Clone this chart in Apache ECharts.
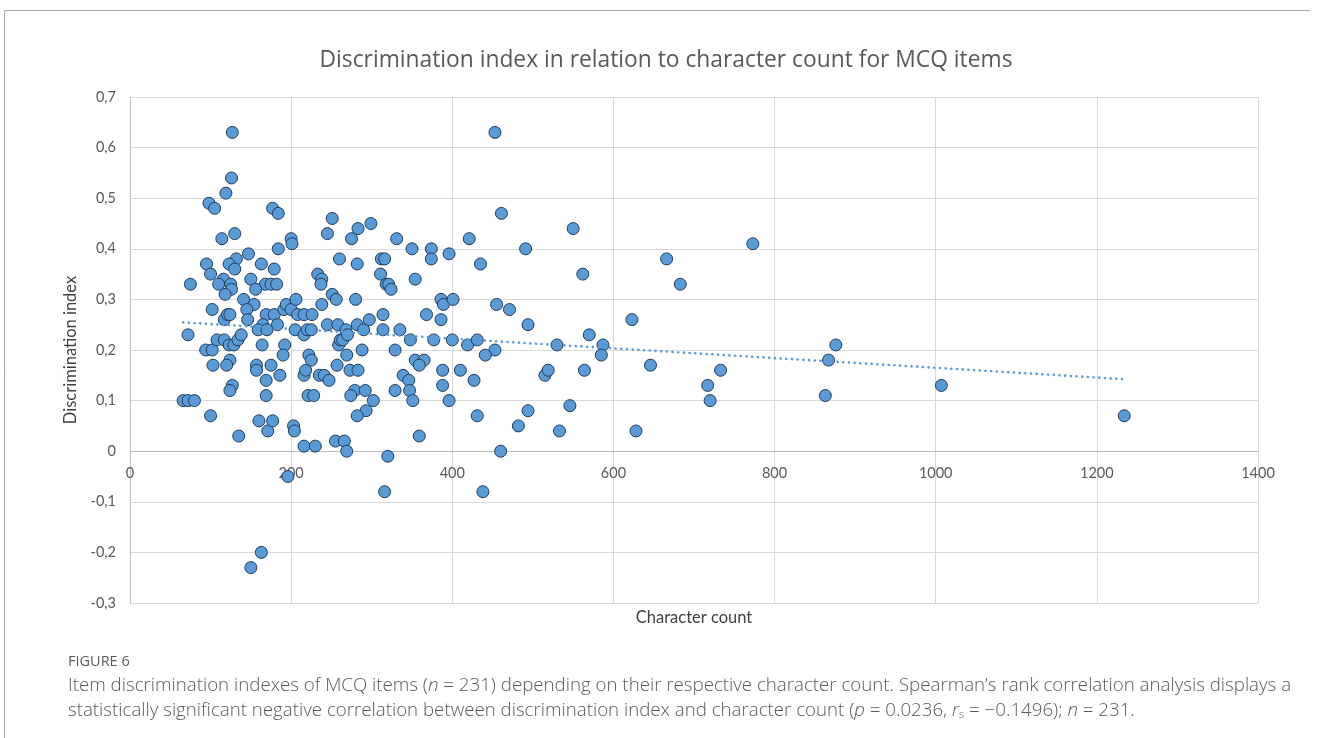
<!DOCTYPE html>
<html>
<head>
<meta charset="utf-8">
<title>Discrimination index vs character count</title>
<script src="https://cdn.jsdelivr.net/npm/echarts@6/dist/echarts.min.js"></script>
<style>
  html, body { margin: 0; padding: 0; background: #ffffff; }
  #chart { width: 1320px; height: 738px; }
</style>
</head>
<body>
<div id="chart"></div>
<script>
// Character count of each MCQ item
const charCount = [
  127, 126, 119, 98, 105, 177, 184, 114, 130, 184,
  147, 132, 95, 123, 130, 163, 179, 100, 150, 116,
  75, 110, 125, 168, 175, 182, 126, 156, 118, 141,
  154, 145, 102, 146, 117, 121, 124, 169, 179, 165,
  183, 159, 170, 191, 194, 200, 72, 94, 102, 108,
  117, 123, 129, 134, 138, 124, 103, 120, 127, 124,
  157, 157, 164, 169, 175, 186, 192, 190, 169, 66,
  72, 80, 100, 135, 160, 171, 177, 196, 163, 150,
  200, 201, 203, 204, 205, 206, 208, 216, 226, 216,
  220, 225, 216, 218, 222, 225, 221, 228, 216, 230,
  233, 238, 237, 238, 245, 235, 241, 247, 245, 251,
  260, 251, 256, 258, 259, 261, 264, 268, 270, 257,
  269, 273, 283, 279, 274, 292, 302, 293, 282, 288,
  255, 266, 269, 275, 283, 299, 282, 280, 282, 290,
  297, 311, 312, 316, 318, 321, 324, 314, 314, 331,
  335, 329, 339, 346, 329, 347, 351, 348, 350, 354,
  354, 365, 359, 359, 320, 316, 368, 374, 374, 386,
  389, 386, 377, 388, 388, 396, 396, 400, 401, 453,
  461, 421, 435, 491, 455, 471, 494, 419, 431, 453,
  441, 410, 427, 431, 460, 438, 482, 494, 515, 519,
  530, 533, 550, 562, 570, 587, 585, 564, 546, 623,
  628, 646, 666, 683, 717, 720, 733, 773, 863, 867,
  876, 1007, 1234
];

// Discrimination index of each item (same order as charCount)
const discIndex = [
  0.63, 0.54, 0.51, 0.49, 0.48, 0.48, 0.47, 0.42, 0.43, 0.40,
  0.39, 0.38, 0.37, 0.37, 0.36, 0.37, 0.36, 0.35, 0.34, 0.34,
  0.33, 0.33, 0.33, 0.33, 0.33, 0.33, 0.32, 0.32, 0.31, 0.30,
  0.29, 0.28, 0.28, 0.26, 0.26, 0.27, 0.27, 0.27, 0.27, 0.25,
  0.25, 0.24, 0.24, 0.28, 0.29, 0.28, 0.23, 0.20, 0.20, 0.22,
  0.22, 0.21, 0.21, 0.22, 0.23, 0.18, 0.17, 0.17, 0.13, 0.12,
  0.17, 0.16, 0.21, 0.14, 0.17, 0.15, 0.21, 0.19, 0.11, 0.10,
  0.10, 0.10, 0.07, 0.03, 0.06, 0.04, 0.06, -0.05, -0.20, -0.23,
  0.42, 0.41, 0.05, 0.04, 0.24, 0.30, 0.27, 0.27, 0.27, 0.23,
  0.24, 0.24, 0.15, 0.16, 0.19, 0.18, 0.11, 0.11, 0.01, 0.01,
  0.35, 0.34, 0.33, 0.29, 0.25, 0.15, 0.15, 0.14, 0.43, 0.46,
  0.38, 0.31, 0.30, 0.25, 0.21, 0.22, 0.22, 0.24, 0.23, 0.17,
  0.19, 0.16, 0.16, 0.12, 0.11, 0.12, 0.10, 0.08, 0.07, 0.20,
  0.02, 0.02, 0.00, 0.42, 0.44, 0.45, 0.37, 0.30, 0.25, 0.24,
  0.26, 0.35, 0.38, 0.38, 0.33, 0.33, 0.32, 0.27, 0.24, 0.42,
  0.24, 0.20, 0.15, 0.14, 0.12, 0.12, 0.10, 0.22, 0.40, 0.34,
  0.18, 0.18, 0.17, 0.03, -0.01, -0.08, 0.27, 0.40, 0.38, 0.30,
  0.29, 0.26, 0.22, 0.16, 0.13, 0.39, 0.10, 0.22, 0.30, 0.63,
  0.47, 0.42, 0.37, 0.40, 0.29, 0.28, 0.25, 0.21, 0.22, 0.20,
  0.19, 0.16, 0.14, 0.07, 0.00, -0.08, 0.05, 0.08, 0.15, 0.16,
  0.21, 0.04, 0.44, 0.35, 0.23, 0.21, 0.19, 0.16, 0.09, 0.26,
  0.04, 0.17, 0.38, 0.33, 0.13, 0.10, 0.16, 0.41, 0.11, 0.18,
  0.21, 0.13, 0.07
];

// Axis ranges and tick spacing
const xRange = [0, 1400];
const xStep = 200;
const yRange = [-0.3, 0.7];
const yStep = 0.1;

const chartTitle = 'Discrimination index in relation to character count for MCQ items';
const xName = 'Character count';
const yName = 'Discrimination index';

const captionHead = 'FIGURE 6';
const captionLine1 = 'Item discrimination indexes of MCQ items ({i|n} = 231) depending on their respective character count. Spearman\u2019s rank correlation analysis displays a';
const captionLine2 = 'statistically significant negative correlation between discrimination index and character count ({i|p} = 0.0236, {i|r}{s|s} = \u22120.1496); {i|n} = 231.';

// Scatter points
const points = charCount.map((c, i) => [c, discIndex[i]]);

// Least-squares linear trend over the data
const n = points.length;
let sx = 0, sy = 0, sxx = 0, sxy = 0;
points.forEach(([x, y]) => { sx += x; sy += y; sxx += x * x; sxy += x * y; });
const slope = (n * sxy - sx * sy) / (n * sxx - sx * sx);
const intercept = (sy - slope * sx) / n;
const xMin = Math.min(...charCount);
const xMax = Math.max(...charCount);
const trend = [[xMin, intercept + slope * xMin], [xMax, intercept + slope * xMax]];

// Plot box
const gridTop = 97;
const gridBottom = 135;
const plotHeight = 738 - gridTop - gridBottom;
// The horizontal axis crosses the vertical axis at zero: shift it up from the bottom edge
const zeroShift = plotHeight * (0 - yRange[0]) / (yRange[1] - yRange[0]);

const chartFont = 'Lato';
const titleFont = '"Open Sans"';
const capFont = '"Open Sans"';
const textGrey = '#595959';
const capGrey = '#5a5a5a';
const capSize = 18.7;

const chart = echarts.init(document.getElementById('chart'), null, { renderer: 'canvas' });

const capText = (text, top) => ({
  type: 'text',
  left: 68,
  top: top,
  silent: true,
  style: {
    text: text,
    fill: capGrey,
    font: '300 ' + capSize + 'px ' + capFont,
    rich: {
      i: { fontStyle: 'italic', fontSize: capSize, fontFamily: capFont, fontWeight: 300, fill: capGrey },
      s: { fontSize: 11, fontFamily: capFont, fontWeight: 300, fill: capGrey, verticalAlign: 'bottom', padding: [9, 0, 0, 0] }
    }
  }
});

chart.setOption({
  backgroundColor: '#ffffff',
  animation: false,
  grid: { left: 130, right: 62, top: gridTop, bottom: gridBottom, containLabel: false, outerBoundsMode: 'none' },
  xAxis: {
    type: 'value',
    min: xRange[0],
    max: xRange[1],
    interval: xStep,
    offset: -zeroShift,
    name: xName,
    nameLocation: 'middle',
    nameGap: 158,
    nameTextStyle: { fontFamily: chartFont, fontSize: 16.5, color: '#404040' },
    axisLine: { show: true, onZero: false, lineStyle: { color: '#bfbfbf', width: 1 } },
    axisTick: { show: false },
    axisLabel: { fontFamily: chartFont, fontSize: 14.5, color: textGrey, margin: 15, formatter: v => String(v) },
    splitLine: { show: true, lineStyle: { color: '#d9d9d9', width: 1 } }
  },
  yAxis: {
    type: 'value',
    min: yRange[0],
    max: yRange[1],
    interval: yStep,
    name: yName,
    nameLocation: 'middle',
    nameGap: 41,
    nameTextStyle: { fontFamily: chartFont, fontSize: 16.5, color: '#404040' },
    axisLine: { show: true, lineStyle: { color: '#bfbfbf', width: 1 } },
    axisTick: { show: false },
    axisLabel: {
      fontFamily: chartFont, fontSize: 14.5, color: textGrey, margin: 14,
      formatter: v => (Math.abs(v) < 1e-9 ? '0' : (Math.round(v * 10) / 10).toFixed(1).replace('.', ','))
    },
    splitLine: { show: true, lineStyle: { color: '#d9d9d9', width: 1 } }
  },
  series: [
    {
      type: 'scatter',
      data: points,
      symbol: 'circle',
      symbolSize: 12,
      itemStyle: { color: '#5b9bd5', borderColor: '#1f3b5e', borderWidth: 1, opacity: 1 },
      emphasis: { disabled: true },
      z: 2
    },
    {
      type: 'line',
      data: trend,
      showSymbol: false,
      symbol: 'none',
      lineStyle: { color: '#5b9bd5', width: 2.6, type: [0.1, 5.6], cap: 'round' },
      emphasis: { disabled: true },
      z: 3
    }
  ],
  graphic: [
    {
      type: 'polyline',
      silent: true,
      shape: { points: [[4.5, 738], [4.5, 10.5], [1310, 10.5]] },
      style: { stroke: '#a6a6a6', lineWidth: 1, fill: null }
    },
    {
      type: 'text',
      x: 666,
      y: 61,
      silent: true,
      style: {
        text: chartTitle,
        fill: textGrey,
        font: '22.8px ' + titleFont,
        align: 'center',
        verticalAlign: 'middle'
      }
    },
    {
      type: 'text',
      left: 68,
      top: 654,
      silent: true,
      style: { text: captionHead, fill: capGrey, font: '14.5px ' + capFont }
    },
    capText(captionLine1, 676),
    capText(captionLine2, 701)
  ]
});
</script>
</body>
</html>
